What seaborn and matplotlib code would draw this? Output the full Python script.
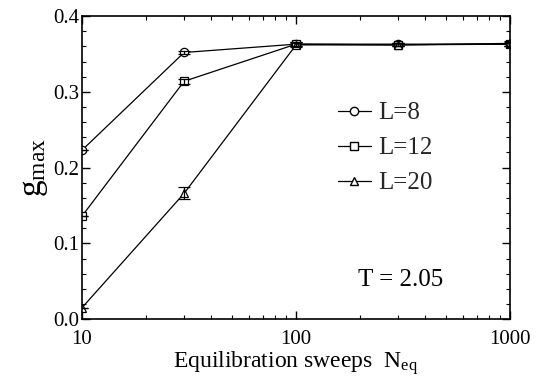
import numpy as np
import pandas as pd
import seaborn as sns
import matplotlib
matplotlib.use("Agg")
import matplotlib.pyplot as plt
from matplotlib.ticker import LogLocator, FixedLocator, MultipleLocator, NullFormatter
from matplotlib.lines import Line2D

# Equilibration sweeps and g_max for three lattice sizes
sweeps = [10, 30, 100, 300, 1000]
g_L8 = [0.223, 0.352, 0.363, 0.363, 0.363]
g_L12 = [0.136, 0.314, 0.363, 0.362, 0.363]
g_L20 = [0.015, 0.166, 0.362, 0.362, 0.364]
err_L8 = [0.0, 0.002, 0.003, 0.002, 0.002]
err_L12 = [0.0, 0.003, 0.003, 0.002, 0.003]
err_L20 = [0.0, 0.008, 0.003, 0.002, 0.003]
labels = ["L=8", "L=12", "L=20"]
markers = ["o", "s", "^"]

sns.set_theme(style="ticks")
plt.rcParams["font.family"] = ["Liberation Serif", "DejaVu Serif"]
plt.rcParams["mathtext.fontset"] = "custom"
plt.rcParams["mathtext.rm"] = "Liberation Serif"
plt.rcParams["mathtext.it"] = "Liberation Serif"

df = pd.concat([
    pd.DataFrame({"N": sweeps, "g": g, "err": e, "L": lab})
    for g, e, lab in zip([g_L8, g_L12, g_L20], [err_L8, err_L12, err_L20], labels)
])

fig = plt.figure(figsize=(5.44, 3.84), dpi=100)
ax = fig.add_axes([0.1507, 0.169, 0.787, 0.789])

sns.lineplot(data=df, x="N", y="g", style="L", markers=dict(zip(labels, markers)),
             dashes=False, color="black", linewidth=0.9, markersize=6,
             markerfacecolor="white", markeredgecolor="black", markeredgewidth=0.9,
             legend=False, ax=ax)

for lab in labels:
    sub = df[df["L"] == lab]
    ax.errorbar(sub["N"], sub["g"], yerr=sub["err"], fmt="none", ecolor="black",
                elinewidth=0.9, capsize=4, capthick=0.9)

ax.set_xscale("log")
ax.set_xlim(10, 1000)
ax.set_ylim(0.0, 0.4)
ax.xaxis.set_major_locator(FixedLocator([10, 100, 1000]))
ax.set_xticklabels(["10", "100", "1000"])
ax.xaxis.set_minor_locator(LogLocator(base=10, subs=np.arange(2, 10)))
ax.xaxis.set_minor_formatter(NullFormatter())
ax.yaxis.set_major_locator(MultipleLocator(0.1))
ax.yaxis.set_minor_locator(MultipleLocator(0.02))
ax.set_yticks([0.0, 0.1, 0.2, 0.3, 0.4])
ax.set_yticklabels(["0.0", "0.1", "0.2", "0.3", "0.4"])

ax.tick_params(which="both", direction="in", top=True, right=True, color="black",
               labelsize=15, labelcolor="black")
ax.tick_params(which="major", length=6, width=1)
ax.tick_params(which="minor", length=3, width=0.8)
ax.tick_params(axis="x", pad=8)
ax.tick_params(axis="y", pad=2)
for s in ax.spines.values():
    s.set_color("black")
    s.set_linewidth(1.2)

ax.set_xlabel(r"Equilibration sweeps  N$_{\mathrm{eq}}$", fontsize=17, color="black", labelpad=0)
ax.set_ylabel(r"g$_{\mathrm{max}}$", fontsize=24, color="black", labelpad=2)

handles = [Line2D([], [], color="black", linewidth=0.9, marker=m, markersize=6,
                  markerfacecolor="white", markeredgecolor="black") for m in markers]
ax.legend(handles, labels, loc="center left", bbox_to_anchor=(0.575, 0.564), frameon=False,
          fontsize=18, handlelength=1.3, handletextpad=0.3, labelspacing=0.5,
          borderaxespad=0)

ax.text(0.745, 0.13, "T = 2.05", transform=ax.transAxes, fontsize=18, color="black",
        ha="center", va="center")

fig.savefig("out.png", dpi=100)
